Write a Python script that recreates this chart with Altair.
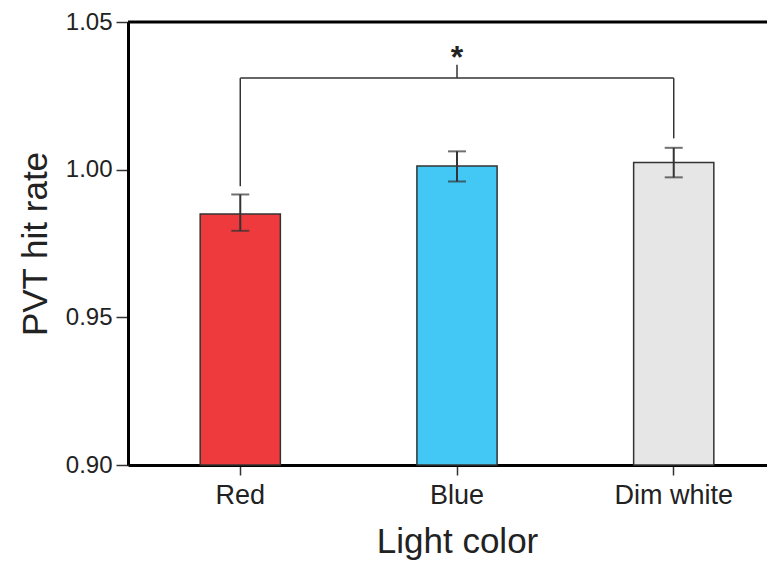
import altair as alt
import pandas as pd

categories = ["Red", "Blue", "Dim white"]
means = [0.985, 1.0012, 1.0024]
lower = [0.9793, 0.9960, 0.9974]
upper = [0.9916, 1.0062, 1.0074]
colors = ["#EF3A3D", "#43C8F5", "#E6E6E6"]

# significance bracket
bracket_y = 1.031
leg_bottom = [0.9944, 1.0106]
star_y = 1.0378

df = pd.DataFrame({"cat": categories, "mean": means, "lo": lower, "hi": upper, "color": colors})

W, H = 639, 443
xscale = alt.Scale(domain=categories, range=[0, 658], paddingInner=0.63, paddingOuter=0.333)
yscale = alt.Scale(domain=[0.90, 1.05], nice=False, zero=False)

FONT = "Liberation Sans"

x_enc = alt.X("cat:N", scale=xscale, sort=categories,
              axis=alt.Axis(title="Light color", labelAngle=0, labelFontSize=27, titleFontSize=35,
                            labelFont=FONT, titleFont=FONT, titleFontWeight="normal",
                            labelColor="#222", titleColor="#222", labelPadding=7, titlePadding=16,
                            domainColor="#000", domainWidth=3, tickColor="#333", tickWidth=1.5,
                            tickSize=10))
y_axis = alt.Axis(title="PVT hit rate", values=[0.90, 0.95, 1.00, 1.05], format=".2f",
                  labelFontSize=24, titleFontSize=35, labelFont=FONT, titleFont=FONT,
                  titleFontWeight="normal", labelColor="#222", titleColor="#222",
                  labelPadding=4, titlePadding=12, domainColor="#000", domainWidth=3,
                  tickColor="#333", tickWidth=1.5, tickSize=12, grid=False)

bars = alt.Chart(df).mark_bar(stroke="#333", strokeWidth=1.5).encode(
    x=x_enc,
    y=alt.Y("mean:Q", scale=yscale, axis=y_axis),
    y2=alt.datum(0.90),
    color=alt.Color("color:N", scale=None),
)

err = alt.Chart(df).mark_rule(color="#333", strokeWidth=2).encode(
    x=alt.X("cat:N", scale=xscale, sort=categories), y=alt.Y("lo:Q", scale=yscale), y2="hi:Q")
cap_lo = alt.Chart(df).mark_tick(color="#333", thickness=2, size=18).encode(
    x=alt.X("cat:N", scale=xscale, sort=categories), y=alt.Y("lo:Q", scale=yscale))
cap_hi = alt.Chart(df).mark_tick(color="#333", thickness=2, size=18).encode(
    x=alt.X("cat:N", scale=xscale, sort=categories), y=alt.Y("hi:Q", scale=yscale))

br_h = pd.DataFrame({"a": [categories[0]], "b": [categories[2]], "y": [bracket_y]})
bracket_h = alt.Chart(br_h).mark_rule(color="#333", strokeWidth=1.5).encode(
    x=alt.X("a:N", scale=xscale, sort=categories), x2="b:N", y=alt.Y("y:Q", scale=yscale))

br_v = pd.DataFrame({"cat": [categories[0], categories[2], categories[1]],
                     "y1": [leg_bottom[0], leg_bottom[1], bracket_y],
                     "y2": [bracket_y, bracket_y, 1.0355]})
bracket_v = alt.Chart(br_v).mark_rule(color="#333", strokeWidth=1.5).encode(
    x=alt.X("cat:N", scale=xscale, sort=categories), y=alt.Y("y1:Q", scale=yscale), y2="y2:Q")

star = alt.Chart(pd.DataFrame({"cat": [categories[1]], "y": [star_y], "t": ["*"]})).mark_text(
    fontSize=32, font=FONT, fontWeight="bold", color="#222", baseline="middle").encode(
    x=alt.X("cat:N", scale=xscale, sort=categories), y=alt.Y("y:Q", scale=yscale), text="t:N")

top_line = alt.Chart(pd.DataFrame({"y": [1.05]})).mark_rule(color="#000", strokeWidth=3).encode(
    x=alt.value(0), x2=alt.value(700), y=alt.Y("y:Q", scale=yscale))

chart = alt.layer(bars, err, cap_lo, cap_hi, bracket_h, bracket_v, star, top_line).properties(
    width=W, height=H,
    autosize=alt.AutoSizeParams(type="none"),
    padding={"left": 120, "top": 14, "right": 0, "bottom": 97},
).configure_view(stroke=None).configure(background="white")

chart.save("out.html", embed_options={"renderer": "svg", "actions": False})
